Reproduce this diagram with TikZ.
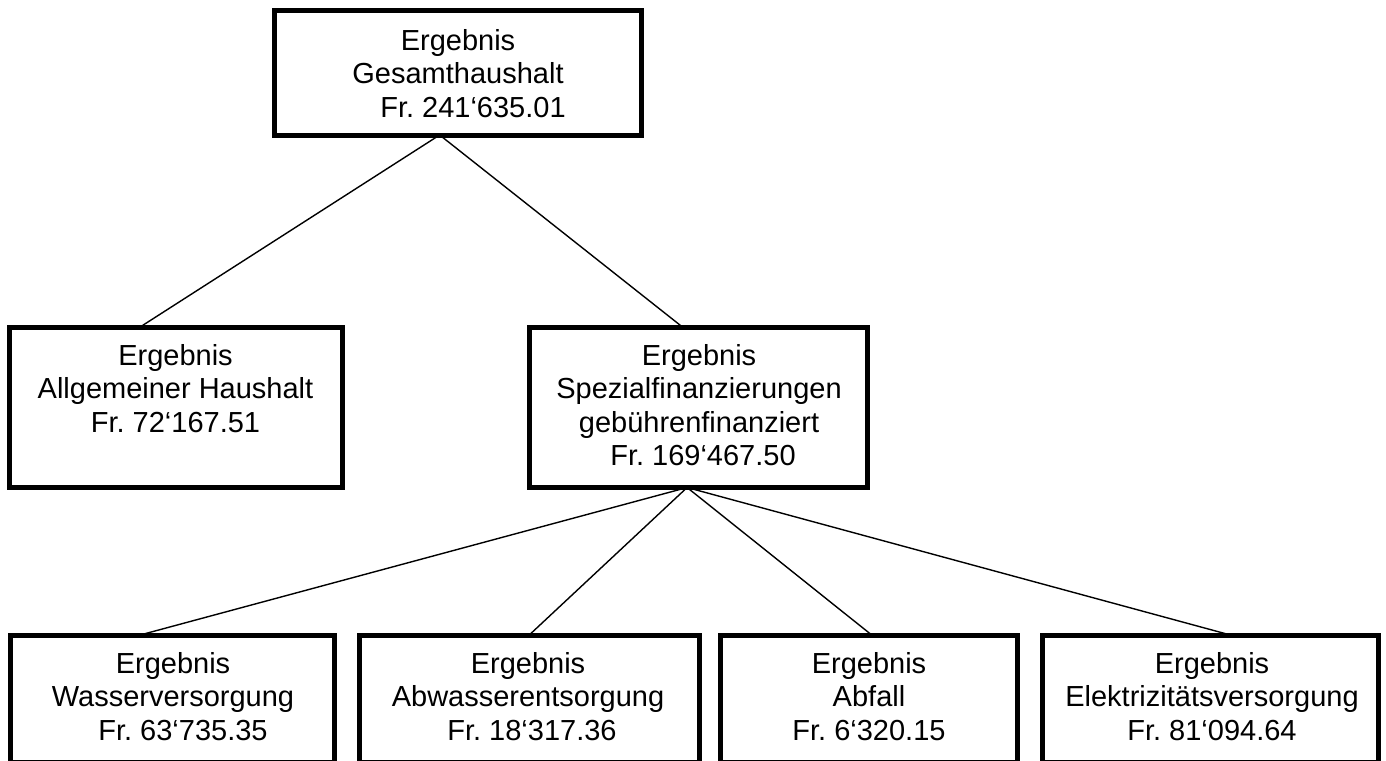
\documentclass[tikz,border=0pt]{standalone}
\usepackage{fontspec}
\setmainfont{Liberation Sans}
\usetikzlibrary{calc}
\frenchspacing
\begin{document}
\begin{tikzpicture}[x=1pt,y=-1pt,
  boxst/.style={draw=black, line width=5pt, inner sep=0pt, outer sep=0pt},
  txt/.style={font=\fontsize{29}{33.5}\selectfont\frenchspacing, align=center, inner sep=0pt, anchor=north},
  conn/.style={draw=black, line width=1.4pt}]
\useasboundingbox (0,0) rectangle (1386,760);
\clip (0,0) rectangle (1386,760);
% boxes
\node[boxst, minimum width=367pt, minimum height=124.5pt] (top) at (458,72.75) {};
\node[boxst, minimum width=333pt, minimum height=160pt] (left) at (176,407.5) {};
\node[boxst, minimum width=337.5pt, minimum height=160pt] (mid) at (698.25,407.5) {};
\node[boxst, minimum width=324pt, minimum height=127pt] (b1) at (172.5,698.5) {};
\node[boxst, minimum width=339.5pt, minimum height=127pt] (b2) at (529.25,698.5) {};
\node[boxst, minimum width=296.5pt, minimum height=127pt] (b3) at (868.75,698.5) {};
\node[boxst, minimum width=335.5pt, minimum height=127pt] (b4) at (1210.25,698.5) {};
% texts
\node[txt] (ttop) at (458,29.2) {Ergebnis\\Gesamthaushalt\\\hspace*{30pt}Fr. 241‘635.01};
\node[txt] (tleft) at (175.5,344.2) {Ergebnis\\Allgemeiner Haushalt\\Fr. 72‘167.51};
\node[txt] (tmid) at (699,344.2) {Ergebnis\\Spezialfinanzierungen\\gebührenfinanziert\\\hspace*{8pt}Fr. 169‘467.50};
\node[txt] (tb1) at (173,652.2) {Ergebnis\\Wasserversorgung\\\hspace*{20pt}Fr. 63‘735.35};
\node[txt] (tb2) at (528,652.2) {Ergebnis\\Abwasserentsorgung\\\hspace*{8pt}Fr. 18‘317.36};
\node[txt] (tb3) at (869,652.2) {Ergebnis\\Abfall\\Fr. 6‘320.15};
\node[txt] (tb4) at (1212,652.2) {Ergebnis\\Elektrizitätsversorgung\\Fr. 81‘094.64};
% connectors
\coordinate (topout) at ($(top.south west)!0.45!(top.south east)$);
\coordinate (midout) at ($(mid.south west)!0.467!(mid.south east)$);
\draw[conn] (topout) -- ($(left.north west)!0.39!(left.north east)$);
\draw[conn] (topout) -- ($(mid.north west)!0.455!(mid.north east)$);
\draw[conn] (midout) -- ($(b1.north west)!0.4!(b1.north east)$);
\draw[conn] (midout) -- ($(b2.north west)!0.5!(b2.north east)$);
\draw[conn] (midout) -- ($(b3.north west)!0.51!(b3.north east)$);
\draw[conn] (midout) -- ($(b4.north west)!0.56!(b4.north east)$);
\end{tikzpicture}
\end{document}
